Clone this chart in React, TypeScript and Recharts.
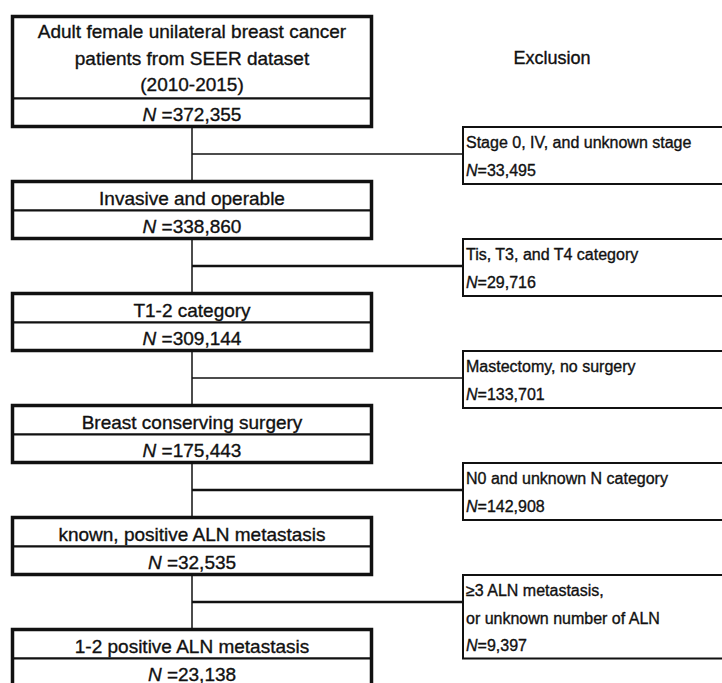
import { ReferenceArea, ReferenceLine, Scatter, ScatterChart, XAxis, YAxis } from "recharts";

const stageTitles = [
	["Adult female unilateral breast cancer", "patients from SEER dataset", "(2010-2015)"],
	["Invasive and operable"],
	["T1-2 category"],
	["Breast conserving surgery"],
	["known, positive ALN metastasis"],
	["1-2 positive ALN metastasis"],
];
const stageCounts = ["372,355", "338,860", "309,144", "175,443", "32,535", "23,138"];

const exclusionReasons = [
	["Stage 0, IV, and unknown stage"],
	["Tis, T3, and T4 category"],
	["Mastectomy, no surgery"],
	["N0 and unknown N category"],
	["\u22653 ALN metastasis,", "or unknown number of ALN"],
];
const exclusionCounts = ["33,495", "29,716", "133,701", "142,908", "9,397"];

const exclusionHeader = "Exclusion";

// layout (pixels in the chart's data space)
const W = 722;
const H = 683;
const mainLeft = 12.5;
const mainRight = 371.5;
const mainCenter = 192;
const exclLeft = 463;
const exclRight = 780;
const firstTop = 16.5;
const titleRow = 29;
const titleExtraLine = 26.5;
const countRow = 28;
const gap = 55;
const connectorWidths = [1.5, 2.5, 1.5, 2.5, 2.5];
const FONT = "'Liberation Sans', Arial, sans-serif";

type TextItem = {
	x: number;
	y: number;
	text: string;
	italicN?: boolean;
	anchor: "start" | "middle";
	size: number;
};

function TextMark(props: any) {
	const { cx, cy } = props;
	const d: TextItem = props.payload ?? props;
	if (cx == null || cy == null) return null;
	return (
		<text
			x={cx}
			y={cy}
			textAnchor={d.anchor}
			dominantBaseline="central"
			fontFamily={FONT}
			fontSize={d.size}
			fill="#111"
			stroke="#111"
			strokeWidth={0.35}
		>
			{d.italicN && <tspan fontStyle="italic">N</tspan>}
			<tspan>{d.text}</tspan>
		</text>
	);
}

export default function App() {
	const stages = [];
	let top = firstTop;
	for (let i = 0; i < stageTitles.length; i++) {
		const titleH = titleRow + titleExtraLine * (stageTitles[i].length - 1);
		const mid = top + titleH;
		const bottom = mid + countRow;
		stages.push({ top, mid, bottom });
		top = bottom + gap;
	}

	const texts: TextItem[] = [];
	stages.forEach((s, i) => {
		const lines = stageTitles[i];
		const titleH = s.mid - s.top;
		const step = lines.length > 1 ? (titleH - 3) / lines.length : titleH;
		lines.forEach((line, j) => {
			texts.push({
				x: mainCenter,
				y: s.top + 1.5 + step * (j + 0.5),
				text: line,
				anchor: "middle",
				size: 19,
			});
		});
		texts.push({
			x: mainCenter,
			y: (s.mid + s.bottom) / 2 + 1,
			text: ` =${stageCounts[i]}`,
			italicN: true,
			anchor: "middle",
			size: 19,
		});
	});

	const exclusions = exclusionReasons.map((reason, i) => {
		const y = (stages[i].bottom + stages[i + 1].top) / 2;
		const boxTop = y - 27;
		const boxBottom = boxTop + 57 + 26.5 * (reason.length - 1);
		reason.forEach((line, j) => {
			texts.push({ x: exclLeft + 3, y: boxTop + 15 + 27.5 * j, text: line, anchor: "start", size: 16 });
		});
		texts.push({
			x: exclLeft + 3,
			y: boxTop + 15 + 27.5 * reason.length,
			text: `=${exclusionCounts[i]}`,
			italicN: true,
			anchor: "start",
			size: 16,
		});
		return { y, boxTop, boxBottom };
	});

	texts.push({ x: 552, y: 58, text: exclusionHeader, anchor: "middle", size: 18 });

	return (
		<div
			style={{
				position: "fixed",
				left: 0,
				top: 0,
				width: W,
				height: H,
				overflow: "hidden",
				background: "#fff",
			}}
		>
			<ScatterChart width={W} height={H} margin={{ top: 0, right: 0, bottom: 0, left: 0 }}>
				<XAxis type="number" dataKey="x" domain={[0, W]} hide allowDataOverflow />
				<YAxis type="number" dataKey="y" domain={[0, H]} reversed hide allowDataOverflow />

				{stages.map((s, i) =>
					i < stages.length - 1 ? (
						<ReferenceLine
							key={`v${i}`}
							segment={[
								{ x: mainCenter, y: s.bottom },
								{ x: mainCenter, y: stages[i + 1].top },
							]}
							stroke="#111"
							strokeWidth={1.5}
							ifOverflow="visible"
						/>
					) : null,
				)}
				{exclusions.map((e, i) => (
					<ReferenceLine
						key={`h${i}`}
						segment={[
							{ x: mainCenter, y: e.y },
							{ x: exclLeft, y: e.y },
						]}
						stroke="#111"
						strokeWidth={connectorWidths[i]}
						ifOverflow="visible"
					/>
				))}

				{stages.map((s, i) => (
					<ReferenceArea
						key={`t${i}`}
						x1={mainLeft}
						x2={mainRight}
						y1={s.top}
						y2={s.mid}
						fill="#fff"
						fillOpacity={1}
						stroke="#111"
						strokeWidth={2}
						ifOverflow="visible"
					/>
				))}
				{stages.map((s, i) => (
					<ReferenceArea
						key={`c${i}`}
						x1={mainLeft}
						x2={mainRight}
						y1={s.mid}
						y2={s.bottom}
						fill="#fff"
						fillOpacity={1}
						stroke="#111"
						strokeWidth={2}
						ifOverflow="visible"
					/>
				))}
				{stages.map((s, i) => (
					<ReferenceArea
						key={`o${i}`}
						x1={mainLeft}
						x2={mainRight}
						y1={s.top}
						y2={s.bottom}
						fill="none"
						fillOpacity={0}
						stroke="#111"
						strokeWidth={3.5}
						ifOverflow="visible"
					/>
				))}
				{exclusions.map((e, i) => (
					<ReferenceArea
						key={`e${i}`}
						x1={exclLeft}
						x2={exclRight}
						y1={e.boxTop}
						y2={e.boxBottom}
						fill="#fff"
						fillOpacity={1}
						stroke="#111"
						strokeWidth={2}
						ifOverflow="visible"
					/>
				))}

				<Scatter data={texts} dataKey="y" shape={TextMark} isAnimationActive={false} />
			</ScatterChart>
		</div>
	);
}
